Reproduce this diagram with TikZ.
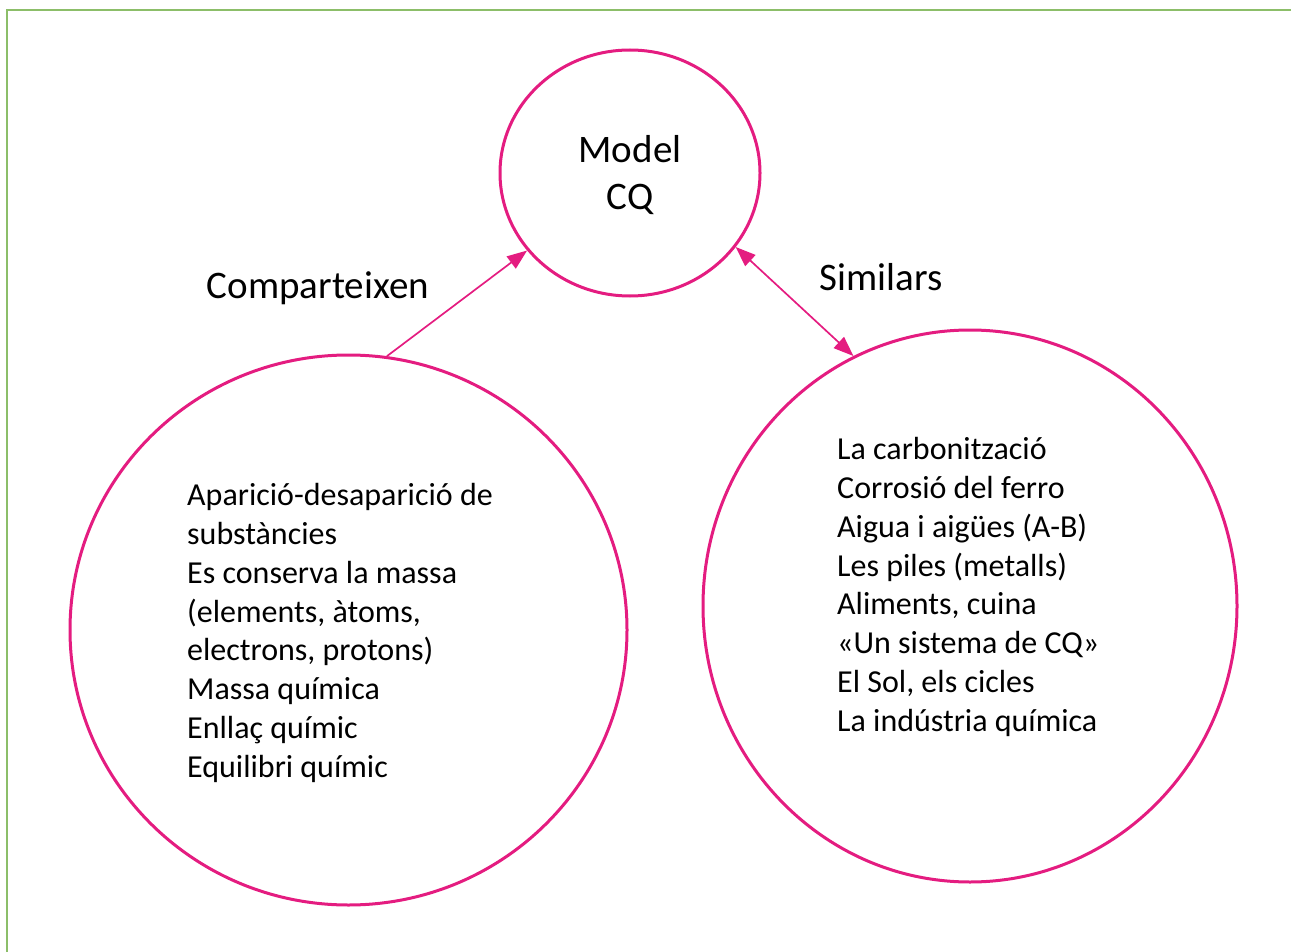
\documentclass[tikz,border=0pt]{standalone}
\usepackage{fontspec}
\setmainfont{Carlito}
\usetikzlibrary{shapes.geometric,arrows.meta}
\definecolor{cqpink}{RGB}{228,28,128}
\definecolor{framegreen}{RGB}{140,190,105}
\tikzset{
  ring/.style={draw=cqpink,line width=3pt,ellipse,inner sep=0pt},
  big/.style={font=\fontsize{39}{47}\selectfont,align=center},
  list/.style={font=\fontsize{32}{38.8}\selectfont,align=left,anchor=west,inner sep=0pt},
  link/.style={cqpink,line width=1.7pt,-{Triangle[length=20pt,width=15pt]}}
}
\begin{document}
\begin{tikzpicture}[x=1pt,y=-1pt]
    \useasboundingbox (0,0) rectangle (1291,952);
    \draw[framegreen,line width=2pt] (7,952) -- (7,10) -- (1291,10);
    \node[ring,minimum width=260pt,minimum height=246pt] (model) at (630,173) {};
    \node[ring,minimum width=557pt,minimum height=550pt] (shared) at (348.5,630) {};
    \node[ring,minimum width=534pt,minimum height=552pt] (similar) at (970,606) {};
    \node[big] (modeltext) at (630,175) {Model\\CQ};
    \node[big] (sharelabel) at (318,288) {Comparteixen};
    \node[big] (similarlabel) at (881,277) {Similars};
    \node[list] (sharedlist) at (187,633) {Aparició-desaparició de\\substàncies\\Es conserva la massa\\(elements, àtoms,\\electrons, protons)\\Massa química\\Enllaç químic\\Equilibri químic};
    \node[list] (similarlist) at (837,587) {La carbonització\\Corrosió del ferro\\Aigua i aigües (A-B)\\Les piles (metalls)\\Aliments, cuina\\«Un sistema de CQ»\\El Sol, els cicles\\La indústria química};
    \draw[link] (shared.82.4) -- (model.217.5);
    \draw[link,{Triangle[length=20pt,width=15pt]}-{Triangle[length=20pt,width=15pt]}] (model.-35) -- (similar.115.4);
\end{tikzpicture}
\end{document}
